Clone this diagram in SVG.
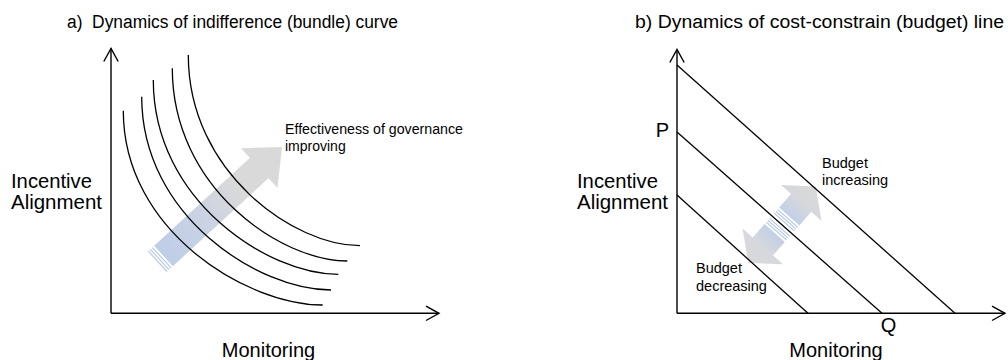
<svg xmlns="http://www.w3.org/2000/svg" width="1008" height="360" viewBox="0 0 1008 360">
<style>
.t{font-family:"Liberation Sans",Arial,sans-serif;fill:#000}
.title{font-size:18px}
.ax{font-size:20px}
.sm{font-size:14px}
.bud{font-size:14.5px}
.axis{stroke:#000;stroke-width:1.4;fill:none}
.curve{stroke:#000;stroke-width:1.3;fill:none}
.stripe{stroke:#b9c9e6;stroke-width:1.2}
</style>
<defs>
<marker id="chev" markerUnits="userSpaceOnUse" markerWidth="20" markerHeight="20" viewBox="-15 -10 20 20" refX="0" refY="0" orient="auto">
<path d="M-13,-7.2 L0,0 L-13,7.2" fill="none" stroke="#000" stroke-width="1.4"/>
</marker>
<linearGradient id="gradA" gradientUnits="userSpaceOnUse" x1="0" y1="0" x2="161" y2="0">
<stop offset="0" stop-color="#bfcde7"/>
<stop offset="0.3" stop-color="#c8d2e5"/>
<stop offset="0.62" stop-color="#d9d9d9"/>
<stop offset="1" stop-color="#d9d9d9"/>
</linearGradient>
<linearGradient id="gradB" gradientUnits="userSpaceOnUse" x1="10" y1="0" x2="51" y2="0">
<stop offset="0" stop-color="#c2cfe7"/>
<stop offset="0.5" stop-color="#d6d8dc"/>
<stop offset="1" stop-color="#d9d9d9"/>
</linearGradient>
<g id="halfArrow">
<rect x="11" y="-13.5" width="19" height="27" fill="url(#gradB)"/>
<polygon points="29,-27 51,0 29,27" fill="url(#gradB)"/>
<line class="stripe" x1="8.5" y1="-13.5" x2="8.5" y2="13.5"/>
<line class="stripe" x1="6" y1="-13.5" x2="6" y2="13.5"/>
<line class="stripe" x1="3.5" y1="-13.5" x2="3.5" y2="13.5"/>
</g>
</defs>
<rect width="1008" height="360" fill="#fff"/>

<g id="panel-a">
<text class="t title" x="67" y="28" textLength="331" lengthAdjust="spacingAndGlyphs" xml:space="preserve">a)  Dynamics of indifference (bundle) curve</text>
<g id="arrow-a" transform="translate(163.5,256) rotate(-42.6)">
<rect x="0" y="-13.8" width="131" height="27.6" fill="url(#gradA)"/>
<polygon points="130,-27 161,0 130,27" fill="url(#gradA)"/>
<line class="stripe" x1="-2.5" y1="-13.8" x2="-2.5" y2="13.8"/>
<line class="stripe" x1="-5.2" y1="-13.8" x2="-5.2" y2="13.8"/>
<line class="stripe" x1="-7.9" y1="-13.8" x2="-7.9" y2="13.8"/>
</g>
<g id="curves-a">
<path class="curve" d="M123.3,110.7 C123.3,231 246.9,305 322.7,305"/>
<path class="curve" d="M141.7,96.7 C141.7,216.5 259,290 331,290"/>
<path class="curve" d="M153.3,80 C153.3,200.5 268,274.3 338.3,274.3"/>
<path class="curve" d="M172.3,68.3 C172.3,188 280.8,261 347.3,261"/>
<path class="curve" d="M188.3,55 C188.3,173 294.7,245.7 360,245.7"/>
</g>
<g id="axes-a">
<path class="axis" d="M111,313.3 L111,48.5" marker-end="url(#chev)"/>
<path class="axis" d="M111,313.3 L439,313.3" marker-end="url(#chev)"/>
</g>
<text class="t ax" x="11" y="188" textLength="81" lengthAdjust="spacingAndGlyphs">Incentive</text>
<text class="t ax" x="11" y="209" textLength="91" lengthAdjust="spacingAndGlyphs">Alignment</text>
<text class="t ax" x="268.5" y="357" text-anchor="middle">Monitoring</text>
<text class="t sm" x="285" y="134" textLength="178" lengthAdjust="spacingAndGlyphs">Effectiveness of governance</text>
<text class="t sm" x="285" y="151">improving</text>
</g>

<g id="panel-b">
<text class="t title" x="635" y="28" textLength="369" lengthAdjust="spacingAndGlyphs">b) Dynamics of cost-constrain (budget) line</text>
<g id="arrow-b" transform="translate(782,224.7) rotate(-48.6)">
<use href="#halfArrow"/>
<use href="#halfArrow" transform="rotate(180)"/>
</g>
<g id="budget-lines">
<line class="curve" x1="677" y1="65" x2="955" y2="313.3"/>
<line class="curve" x1="677" y1="132" x2="882" y2="313.3"/>
<line class="curve" x1="677" y1="195" x2="808" y2="313.3"/>
</g>
<g id="axes-b">
<path class="axis" d="M677,313.3 L677,49.5" marker-end="url(#chev)"/>
<path class="axis" d="M677,313.3 L1005,313.3" marker-end="url(#chev)"/>
</g>
<text class="t ax" x="669" y="137" text-anchor="end" font-size="18">P</text>
<text class="t ax" x="888.5" y="332" text-anchor="middle" font-size="18">Q</text>
<text class="t ax" x="577" y="188" textLength="81" lengthAdjust="spacingAndGlyphs">Incentive</text>
<text class="t ax" x="577" y="209" textLength="91" lengthAdjust="spacingAndGlyphs">Alignment</text>
<text class="t ax" x="836" y="357" text-anchor="middle">Monitoring</text>
<text class="t bud" x="822" y="168">Budget</text>
<text class="t bud" x="822" y="185">increasing</text>
<text class="t bud" x="696" y="273">Budget</text>
<text class="t bud" x="696" y="291">decreasing</text>
</g>
</svg>
